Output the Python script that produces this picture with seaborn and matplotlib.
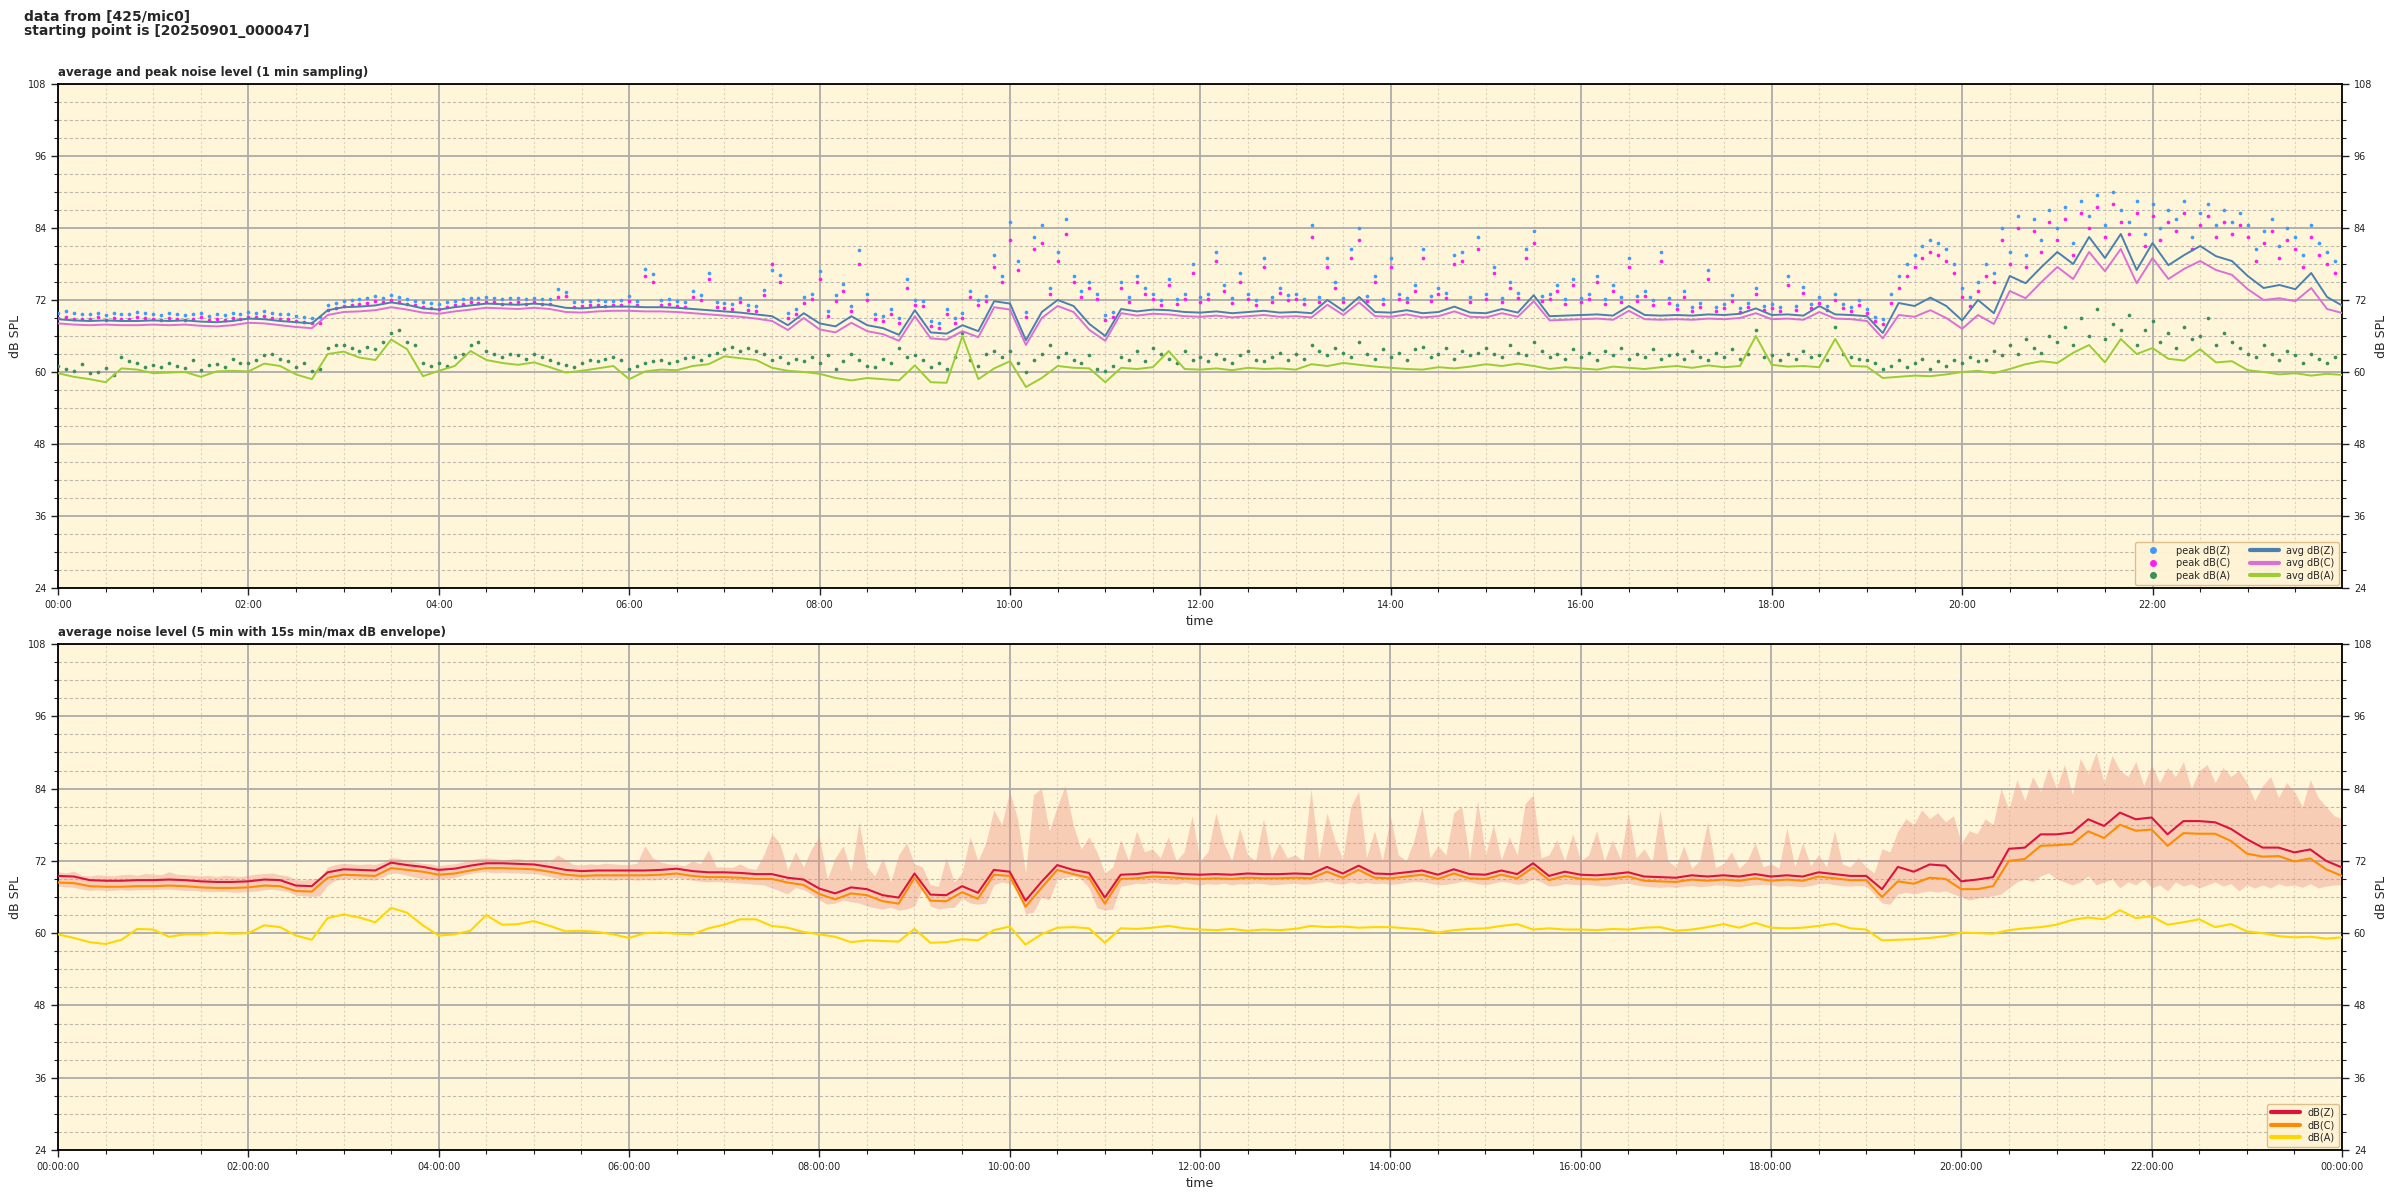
import numpy as np
import matplotlib
matplotlib.use("Agg")
import matplotlib.pyplot as plt
import seaborn as sns
from matplotlib.ticker import MultipleLocator, FuncFormatter
from matplotlib.lines import Line2D

# ---------------- data (top panel, 10-min avg lines) ----------------
avg_z = [68.8, 68.6, 68.5, 68.6, 68.5, 68.5,
         68.6, 68.5, 68.6, 68.4, 68.3, 68.5,
         68.9, 68.8, 68.5, 68.3, 68.1, 70.3,
         70.8, 70.9, 71.1, 71.6, 71.2, 70.6,
         70.4, 70.8, 71.1, 71.4, 71.3, 71.2,
         71.4, 71.2, 70.7, 70.6, 70.8, 70.9,
         70.9, 70.8, 70.8, 70.7, 70.5, 70.3,
         70.1, 69.9, 69.6, 69.3, 67.8, 69.8,
         68.1, 67.6, 69.3, 67.8, 67.3, 66.2,
         70.3, 66.6, 66.4, 67.8, 66.8, 71.8,
         71.4, 65.3, 70.0, 72.0, 71.0, 68.0,
         66.0, 70.5, 70.1, 70.4, 70.3, 70.0,
         69.9, 70.1, 69.8, 70.0, 70.2, 69.9,
         70.0, 69.8, 72.0, 70.2, 72.5, 70.0,
         69.9, 70.3, 69.8, 70.0, 70.9, 69.9,
         69.8, 70.5, 69.9, 72.8, 69.3, 69.4,
         69.5, 69.6, 69.4, 71.0, 69.5, 69.4,
         69.5, 69.4, 69.6, 69.5, 69.7, 70.6,
         69.5, 69.6, 69.4, 71.0, 69.6, 69.5,
         69.3, 66.5, 71.5, 71.0, 72.4, 71.0,
         68.6, 72.0, 69.8, 76.0, 74.8, 77.5,
         80.0, 78.0, 82.5, 79.0, 83.0, 77.0,
         81.5, 77.8, 79.5, 81.0, 79.3, 78.5,
         76.0, 74.0, 74.5, 73.8, 76.5, 72.5,
         71.0]
avg_c = [68.1, 67.9, 67.8, 67.9, 67.8, 67.8,
         67.9, 67.8, 67.9, 67.7, 67.6, 67.8,
         68.2, 68.1, 67.8, 67.5, 67.3, 69.5,
         70.0, 70.1, 70.3, 70.8, 70.4, 69.9,
         69.7, 70.1, 70.4, 70.7, 70.6, 70.5,
         70.7, 70.5, 70.0, 69.9, 70.1, 70.2,
         70.2, 70.1, 70.1, 70.0, 69.8, 69.6,
         69.4, 69.2, 68.9, 68.5, 67.0, 69.0,
         67.1, 66.6, 68.2, 66.8, 66.3, 65.2,
         69.3, 65.6, 65.4, 66.8, 65.8, 70.8,
         70.4, 64.5, 69.0, 71.0, 70.0, 67.0,
         65.2, 69.8, 69.4, 69.7, 69.6, 69.3,
         69.2, 69.4, 69.1, 69.3, 69.5, 69.2,
         69.3, 69.1, 71.2, 69.5, 71.6, 69.3,
         69.2, 69.6, 69.1, 69.3, 70.1, 69.2,
         69.1, 69.8, 69.2, 71.8, 68.6, 68.7,
         68.8, 68.9, 68.7, 70.2, 68.8, 68.7,
         68.8, 68.7, 68.9, 68.8, 69.0, 69.8,
         68.8, 68.9, 68.7, 70.0, 68.9, 68.8,
         68.5, 65.6, 69.5, 69.2, 70.3, 69.0,
         67.2, 69.5, 68.0, 73.5, 72.3, 75.0,
         77.5, 75.5, 80.0, 76.8, 80.5, 74.8,
         79.0, 75.5, 77.2, 78.5, 77.0, 76.2,
         73.8, 72.0, 72.3, 71.8, 74.0, 70.5,
         69.8]
avg_a = [59.8, 59.2, 58.8, 58.3, 60.6, 60.4,
         59.8, 59.9, 60.0, 59.2, 60.1, 60.2,
         60.1, 61.4, 61.0, 59.6, 58.8, 63.0,
         63.4, 62.4, 62.0, 65.4, 63.8, 59.3,
         60.2, 61.0, 63.5, 62.0, 61.5, 61.2,
         61.6, 60.8, 59.9, 60.2, 60.6, 61.0,
         58.8, 60.1, 60.4, 60.3, 61.0, 61.3,
         62.6, 62.3, 62.0, 60.7, 60.2, 60.0,
         59.7, 59.0, 58.6, 59.0, 58.8, 58.6,
         61.1, 58.3, 58.2, 66.0, 58.8, 60.6,
         61.8, 57.5, 59.0, 61.0, 60.7, 60.6,
         58.3, 60.7, 60.5, 60.8, 63.5, 60.5,
         60.4, 60.6, 60.3, 60.7, 60.5, 60.6,
         60.4, 61.3, 61.0, 61.5, 61.2, 60.9,
         60.7, 60.5, 60.4, 60.8, 60.6, 60.9,
         61.3, 61.0, 61.4, 61.0, 60.5, 60.8,
         60.6, 60.4, 60.9, 60.7, 60.5, 60.8,
         61.0, 60.7, 61.1, 60.8, 61.0, 66.0,
         61.2, 60.9, 61.0, 60.8, 65.5, 61.0,
         60.9, 59.0, 59.2, 59.4, 59.3, 59.6,
         60.0, 60.2, 59.8, 60.5, 61.3, 61.8,
         61.5, 63.2, 64.5, 61.6, 65.5, 63.0,
         64.0, 62.2, 61.9, 63.8, 61.6, 61.8,
         60.3, 60.0, 59.6, 59.8, 59.4, 59.7,
         59.5]

# ---------------- data (top panel, 5-min peaks) ----------------
peak_z = [69.9, 70.2, 69.8, 69.6, 69.7, 69.9, 69.5, 69.8, 69.6, 69.7, 70.0, 69.8,
          69.7, 69.5, 69.8, 69.6, 69.5, 69.7, 69.9, 69.4, 69.6, 69.5, 69.8, 69.7,
          70.0, 69.9, 70.1, 69.8, 69.7, 69.6, 69.4, 69.2, 69.0, 69.1, 71.2, 71.5,
          71.8, 72.0, 72.1, 72.3, 72.6, 72.4, 72.8, 72.5, 72.2, 71.9, 71.6, 71.5,
          71.3, 71.6, 71.9, 72.2, 72.4, 72.3, 72.5, 72.4, 72.2, 72.3, 72.4, 72.1,
          72.4, 72.2, 72.1, 73.8, 73.4, 71.7, 71.8, 71.9, 72.0, 71.8, 71.9, 72.0,
          72.6, 71.9, 77.2, 76.3, 72.0, 72.2, 71.8, 71.6, 73.5, 72.8, 76.5, 71.7,
          71.5, 71.3, 72.4, 71.2, 71.0, 73.6, 77.0, 76.2, 69.8, 70.5, 72.5, 73.0,
          76.8, 70.2, 72.8, 74.6, 71.0, 80.3, 73.0, 69.6, 69.3, 70.5, 69.0, 75.5,
          72.0, 71.8, 68.5, 68.2, 70.5, 69.0, 69.8, 73.5, 72.0, 72.6, 79.5, 76.0,
          85.0, 78.5, 70.0, 82.5, 84.5, 74.0, 80.0, 85.5, 76.0, 73.5, 75.0, 73.0,
          69.5, 70.0, 75.0, 72.5, 76.0, 74.0, 73.0, 72.0, 75.5, 72.2, 73.0, 78.0,
          72.5, 73.0, 80.0, 74.5, 72.3, 76.5, 73.0, 72.0, 79.0, 72.5, 74.0, 72.8,
          73.0, 72.2, 84.5, 72.5, 79.0, 75.0, 72.4, 80.5, 84.0, 72.6, 76.0, 72.2,
          79.0, 73.0, 72.4, 74.5, 80.5, 72.6, 74.0, 73.2, 79.5, 80.0, 72.5, 82.5,
          73.0, 77.5, 72.4, 75.0, 73.2, 80.5, 83.5, 72.6, 73.0, 74.5, 72.2, 75.5,
          72.4, 73.0, 76.0, 72.2, 74.5, 72.5, 79.0, 72.6, 73.5, 72.0, 80.0, 72.3,
          71.2, 73.5, 70.8, 71.5, 77.0, 70.9, 71.3, 72.8, 70.7, 71.5, 74.0, 71.0,
          71.4, 70.8, 76.0, 71.0, 74.2, 71.3, 72.5, 71.0, 73.0, 71.4, 70.9, 72.0,
          70.5, 69.2, 68.8, 73.0, 76.0, 78.0, 79.5, 81.0, 82.0, 81.5, 80.5, 78.0,
          74.0, 72.5, 75.0, 78.0, 76.5, 84.0, 80.0, 86.0, 79.5, 85.5, 82.0, 87.0,
          84.0, 87.5, 81.5, 88.5, 86.0, 89.5, 84.5, 90.0, 87.0, 85.0, 88.5, 83.0,
          88.0, 84.0, 87.0, 85.5, 88.5, 82.5, 86.5, 88.0, 84.5, 87.0, 85.0, 86.5,
          84.5, 80.5, 83.5, 85.5, 81.0, 84.0, 82.5, 79.5, 84.5, 81.5, 80.0, 78.5]
peak_c = [69.0, 69.2, 68.9, 68.8, 68.9, 69.1, 68.7, 69.0, 68.8, 68.9, 69.2, 69.0,
          68.9, 68.7, 69.0, 68.8, 68.6, 68.9, 69.1, 68.6, 68.8, 68.7, 69.0, 68.9,
          69.2, 69.1, 69.3, 69.0, 68.9, 68.8, 68.5, 68.3, 68.1, 68.2, 70.4, 70.7,
          71.0, 71.2, 71.3, 71.5, 71.8, 71.6, 72.0, 71.7, 71.4, 71.1, 70.8, 70.7,
          70.5, 70.8, 71.1, 71.4, 71.6, 71.5, 71.7, 71.6, 71.4, 71.5, 71.6, 71.3,
          71.6, 71.4, 71.3, 72.5, 72.6, 70.9, 71.0, 71.1, 71.2, 71.0, 71.1, 71.2,
          71.8, 71.1, 76.0, 75.0, 71.2, 71.4, 71.0, 70.8, 72.5, 72.0, 75.5, 70.9,
          70.7, 70.5, 71.6, 70.4, 70.2, 72.8, 78.0, 75.0, 69.0, 69.7, 71.5, 72.2,
          75.5, 69.4, 71.8, 73.5, 70.2, 78.0, 72.0, 68.8, 68.5, 69.7, 68.2, 74.0,
          71.2, 71.0, 67.7, 67.4, 69.7, 68.2, 69.0, 72.5, 71.2, 71.8, 77.5, 75.0,
          82.0, 77.0, 69.2, 80.5, 81.5, 73.0, 78.5, 83.0, 75.0, 72.5, 74.0, 72.2,
          68.7, 69.2, 74.0, 71.6, 75.0, 73.0, 72.2, 71.2, 74.5, 71.4, 72.2, 76.5,
          71.7, 72.2, 78.5, 73.5, 71.5, 75.0, 72.2, 71.2, 77.5, 71.7, 73.2, 72.0,
          72.2, 71.4, 82.5, 71.7, 77.5, 74.0, 71.6, 79.0, 82.0, 71.8, 75.0, 71.4,
          77.5, 72.2, 71.6, 73.5, 79.0, 71.8, 73.0, 72.4, 78.0, 78.5, 71.7, 80.5,
          72.2, 76.5, 71.6, 74.0, 72.4, 79.0, 81.5, 71.8, 72.2, 73.5, 71.4, 74.5,
          71.6, 72.2, 75.0, 71.4, 73.5, 71.7, 77.5, 71.8, 72.6, 71.2, 78.5, 71.5,
          70.5, 72.5, 70.1, 70.8, 75.5, 70.2, 70.6, 71.8, 70.0, 70.8, 73.0, 70.3,
          70.7, 70.1, 74.5, 70.3, 73.2, 70.6, 71.5, 70.3, 72.0, 70.7, 70.2, 71.2,
          69.8, 68.5, 68.0, 71.5, 74.0, 76.0, 77.5, 79.0, 80.0, 79.5, 78.5, 76.5,
          72.5, 71.0, 73.5, 76.0, 75.0, 82.0, 78.0, 84.0, 77.5, 83.5, 80.0, 85.0,
          82.0, 85.5, 79.5, 86.5, 84.0, 87.5, 82.5, 88.0, 85.0, 83.0, 86.5, 81.0,
          86.0, 82.0, 85.0, 83.5, 86.5, 80.5, 84.5, 86.0, 82.5, 85.0, 83.0, 84.5,
          82.5, 78.5, 81.5, 83.5, 79.0, 82.0, 80.5, 77.5, 82.5, 79.5, 78.0, 76.5]
peak_a = [61.0, 60.5, 60.2, 61.3, 59.8, 60.0, 60.6, 59.5, 62.5, 61.8, 61.5, 60.9,
          61.2, 60.8, 61.5, 61.0, 60.7, 62.0, 60.3, 61.2, 61.4, 60.9, 62.2, 61.5,
          61.5, 62.0, 62.8, 63.0, 62.2, 61.8, 60.8, 61.5, 60.2, 60.5, 64.0, 64.5,
          64.5, 64.0, 63.5, 64.2, 63.8, 65.0, 66.5, 67.0, 65.0, 64.5, 61.5, 61.0,
          61.5, 61.0, 62.5, 63.0, 64.5, 65.0, 63.5, 63.0, 62.5, 63.0, 62.8, 62.2,
          63.0, 62.5, 62.0, 61.5, 61.2, 60.8, 61.5, 62.0, 61.8, 62.2, 62.5, 62.0,
          60.5, 61.0, 61.5, 61.8, 62.0, 61.5, 61.8, 62.3, 62.5, 62.0, 62.8, 63.2,
          63.8, 64.2, 63.5, 64.0, 63.5, 63.0, 62.0, 62.5, 61.5, 62.2, 61.8, 62.5,
          61.5, 62.8, 60.5, 61.8, 63.0, 62.0, 61.0, 60.8, 62.2, 61.5, 64.0, 62.5,
          62.8, 62.0, 60.8, 61.5, 60.5, 62.5, 66.5, 62.0, 61.0, 63.0, 63.5, 62.5,
          63.5, 61.5, 60.0, 62.0, 63.0, 64.5, 62.5, 63.2, 62.0, 61.5, 62.8, 60.5,
          60.2, 61.0, 62.5, 62.0, 63.5, 61.8, 64.0, 63.0, 62.2, 61.5, 63.5, 62.0,
          62.5, 61.8, 63.0, 62.2, 61.5, 62.8, 63.5, 62.0, 61.8, 62.5, 63.2, 62.0,
          63.0, 62.2, 64.5, 63.5, 62.8, 64.0, 63.2, 62.5, 65.0, 63.0, 62.2, 63.8,
          62.5, 63.2, 62.0, 63.8, 64.2, 62.5, 63.0, 64.0, 62.2, 63.5, 62.8, 63.2,
          64.0, 63.0, 62.5, 64.5, 63.2, 62.8, 65.0, 63.5, 62.5, 63.0, 62.2, 63.8,
          62.5, 63.2, 62.0, 63.5, 62.8, 64.0, 62.2, 63.0, 62.5, 63.8, 62.2, 62.8,
          63.0, 62.2, 63.5, 62.5, 62.0, 63.2, 62.5, 63.8, 62.2, 63.0, 67.0, 62.5,
          62.8, 62.0, 63.0, 62.2, 63.5, 62.5, 62.8, 62.0, 67.5, 63.0, 62.5, 62.2,
          62.0, 61.5, 60.5, 61.0, 62.0, 60.8, 61.5, 62.2, 60.5, 61.8, 61.0, 62.0,
          61.5, 62.5, 61.8, 62.0, 63.5, 62.8, 64.5, 63.0, 65.5, 64.0, 63.2, 66.0,
          65.0, 67.5, 64.5, 69.0, 66.0, 70.5, 65.5, 68.0, 67.0, 69.5, 64.5, 67.0,
          68.5, 65.0, 66.5, 64.0, 67.5, 65.5, 66.0, 69.0, 64.5, 66.5, 65.0, 64.0,
          63.0, 62.5, 64.5, 63.0, 62.0, 63.5, 62.8, 61.5, 63.0, 62.2, 61.5, 62.5]

# ---------------- data (bottom panel, 10-min 5-min-averages) ----------------
bot_z = [69.5, 69.4, 68.8, 68.7, 68.7, 68.8,
         68.8, 68.9, 68.8, 68.6, 68.5, 68.5,
         68.6, 68.9, 68.8, 67.9, 67.8, 70.1,
         70.6, 70.5, 70.4, 71.7, 71.3, 71.0,
         70.5, 70.7, 71.2, 71.6, 71.6, 71.5,
         71.4, 71.0, 70.5, 70.3, 70.4, 70.4,
         70.4, 70.4, 70.5, 70.7, 70.3, 70.1,
         70.1, 70.0, 69.8, 69.8, 69.2, 68.9,
         67.4, 66.6, 67.6, 67.3, 66.3, 65.9,
         69.9, 66.4, 66.3, 67.8, 66.7, 70.5,
         70.2, 65.4, 68.5, 71.3, 70.5, 70.0,
         65.9, 69.7, 69.8, 70.1, 70.0, 69.8,
         69.7, 69.8, 69.7, 69.9, 69.8, 69.8,
         69.9, 69.8, 71.0, 69.9, 71.2, 69.9,
         69.8, 70.1, 70.4, 69.7, 70.6, 69.8,
         69.7, 70.4, 69.8, 71.6, 69.5, 70.2,
         69.7, 69.6, 69.8, 70.1, 69.4, 69.3,
         69.2, 69.6, 69.4, 69.6, 69.4, 69.8,
         69.4, 69.6, 69.4, 70.1, 69.8, 69.5,
         69.5, 67.3, 71.0, 70.2, 71.4, 71.2,
         68.6, 68.9, 69.3, 74.0, 74.2, 76.4,
         76.4, 76.7, 78.9, 77.8, 80.0, 78.9,
         79.2, 76.4, 78.6, 78.6, 78.4, 77.3,
         75.6, 74.2, 74.2, 73.4, 73.9, 72.0,
         70.9]
bot_c = [68.4, 68.3, 67.8, 67.7, 67.7, 67.8,
         67.8, 67.9, 67.8, 67.6, 67.5, 67.5,
         67.6, 67.9, 67.8, 67.0, 66.9, 69.2,
         69.7, 69.6, 69.5, 70.8, 70.5, 70.2,
         69.7, 69.9, 70.4, 70.8, 70.8, 70.7,
         70.6, 70.2, 69.7, 69.5, 69.6, 69.6,
         69.6, 69.6, 69.7, 69.9, 69.5, 69.3,
         69.3, 69.2, 69.0, 69.0, 68.4, 68.0,
         66.5, 65.6, 66.6, 66.3, 65.3, 64.9,
         69.2, 65.4, 65.3, 66.8, 65.7, 69.7,
         69.5, 64.4, 67.5, 70.5, 69.8, 69.2,
         64.9, 69.0, 69.1, 69.4, 69.3, 69.1,
         69.0, 69.1, 69.0, 69.2, 69.1, 69.1,
         69.2, 69.1, 70.2, 69.2, 70.5, 69.2,
         69.1, 69.4, 69.7, 69.0, 69.9, 69.1,
         69.0, 69.7, 69.1, 70.9, 68.8, 69.5,
         69.0, 68.9, 69.1, 69.4, 68.7, 68.6,
         68.5, 68.9, 68.7, 68.9, 68.7, 69.1,
         68.7, 68.9, 68.7, 69.4, 69.1, 68.8,
         68.8, 66.0, 68.6, 68.2, 69.2, 69.0,
         67.3, 67.3, 67.8, 72.0, 72.3, 74.5,
         74.6, 74.8, 76.9, 75.8, 78.0, 77.0,
         77.2, 74.5, 76.6, 76.5, 76.5, 75.3,
         73.2, 72.7, 72.8, 71.9, 72.4, 70.6,
         69.5]
bot_a = [59.8, 59.2, 58.5, 58.2, 58.9, 60.7,
         60.6, 59.4, 59.8, 59.8, 60.1, 59.9,
         60.0, 61.3, 61.0, 59.6, 58.9, 62.5,
         63.1, 62.6, 61.8, 64.2, 63.4, 61.3,
         59.6, 59.8, 60.4, 63.0, 61.4, 61.5,
         62.0, 61.2, 60.3, 60.4, 60.2, 59.8,
         59.2, 60.0, 60.1, 59.9, 59.8, 60.8,
         61.4, 62.3, 62.3, 61.2, 60.9, 60.2,
         59.8, 59.4, 58.5, 58.8, 58.7, 58.6,
         60.7, 58.4, 58.5, 59.0, 58.8, 60.5,
         61.1, 58.1, 59.8, 60.9, 61.0, 60.8,
         58.4, 60.8, 60.7, 60.9, 61.2, 60.8,
         60.6, 60.5, 60.7, 60.4, 60.6, 60.5,
         60.7, 61.2, 61.0, 61.1, 60.9, 61.0,
         61.0, 60.8, 60.6, 60.1, 60.5, 60.7,
         60.8, 61.2, 61.5, 60.6, 60.8, 60.6,
         60.6, 60.5, 60.7, 60.6, 60.9, 61.0,
         60.4, 60.6, 61.0, 61.5, 60.9, 61.7,
         60.9, 60.8, 60.9, 61.2, 61.6, 60.8,
         60.6, 58.8, 58.9, 59.0, 59.2, 59.5,
         60.1, 60.0, 59.9, 60.5, 60.8, 61.0,
         61.4, 62.2, 62.6, 62.3, 63.8, 62.5,
         62.8, 61.4, 61.8, 62.3, 61.0, 61.5,
         60.3, 60.0, 59.5, 59.3, 59.4, 59.1,
         59.3]

# ---------------- data (bottom panel, 15s min/max envelope, 5-min) ----------------
env_hi = [70.2, 70.0, 70.3, 69.6, 69.5, 69.7, 69.6, 69.5, 69.7, 69.8, 69.6, 69.9,
          69.8, 69.7, 70.2, 69.8, 69.7, 69.6, 69.5, 69.6, 69.4, 69.6, 69.5, 69.4,
          69.6, 69.8, 69.9, 70.0, 69.7, 69.5, 68.9, 68.8, 69.0, 69.1, 71.0, 71.4,
          71.6, 71.5, 71.4, 71.5, 71.4, 71.8, 72.6, 72.4, 72.0, 71.8, 71.6, 71.5,
          71.2, 71.4, 71.5, 71.8, 72.2, 72.4, 72.5, 72.4, 72.2, 72.3, 72.4, 72.2,
          72.2, 72.0, 71.8, 73.0, 72.2, 71.4, 71.3, 71.5, 71.4, 71.6, 71.5, 71.4,
          71.4, 71.6, 74.5, 72.5, 71.8, 71.5, 71.4, 71.2, 72.0, 71.5, 73.8, 71.0,
          71.0, 70.9, 71.5, 70.8, 70.6, 73.0, 76.5, 75.0, 70.5, 73.5, 71.0, 74.0,
          76.0, 69.0, 72.5, 74.5, 70.2, 78.5, 71.0, 69.5, 72.5, 68.5, 73.0, 75.0,
          71.5, 71.0, 68.0, 67.8, 72.5, 68.5, 70.0, 76.0, 72.0, 75.0, 80.5, 78.0,
          83.5, 79.0, 70.0, 83.0, 84.0, 77.0, 81.0, 84.5, 78.0, 74.0, 76.0, 73.5,
          70.0, 71.0, 75.5, 72.0, 77.0, 73.5, 74.0, 72.5, 76.0, 72.0, 73.5, 79.5,
          72.0, 73.5, 80.0, 75.0, 72.0, 77.5, 73.0, 72.0, 79.0, 72.2, 75.0, 72.5,
          73.0, 72.0, 84.0, 72.5, 80.0, 75.5, 72.3, 81.0, 83.5, 72.6, 77.0, 72.0,
          79.5, 73.0, 72.0, 75.5, 81.0, 72.5, 74.5, 73.0, 80.0, 81.0, 72.3, 82.0,
          73.0, 78.0, 72.2, 76.0, 73.0, 81.5, 83.0, 72.5, 73.0, 75.5, 72.0, 76.5,
          72.0, 73.0, 77.0, 72.0, 75.5, 72.3, 80.0, 72.5, 74.0, 71.8, 80.5, 72.0,
          71.0, 74.5, 70.8, 72.0, 78.5, 70.9, 71.5, 73.5, 70.8, 72.0, 75.0, 71.0,
          71.5, 70.8, 77.5, 71.0, 75.0, 71.2, 73.0, 71.0, 77.0, 71.5, 71.0, 72.5,
          71.0, 70.0, 74.0, 73.5, 77.0, 79.0, 78.0, 80.5, 79.0, 80.0, 78.5, 79.5,
          75.0, 77.0, 76.5, 79.0, 78.0, 84.0, 80.5, 85.5, 82.0, 86.0, 83.5, 87.5,
          84.0, 88.0, 83.0, 89.0, 86.5, 90.0, 85.0, 89.5, 87.0, 86.0, 88.5, 84.5,
          88.0, 85.0, 87.5, 86.0, 88.5, 84.0, 87.0, 88.0, 85.0, 87.5, 86.0, 87.0,
          85.0, 82.0, 84.5, 86.0, 82.5, 85.0, 83.5, 81.0, 85.5, 82.5, 81.0, 79.5,
          79.0]
env_lo = [67.8, 67.7, 67.6, 67.3, 67.1, 67.2, 67.1, 67.1, 67.2, 67.1, 67.2, 67.2,
          67.2, 67.3, 67.3, 67.2, 67.1, 67.1, 67.0, 66.9, 66.9, 66.9, 66.8, 66.8,
          66.9, 67.0, 67.2, 67.3, 67.1, 66.9, 66.3, 66.2, 66.1, 66.2, 68.0, 68.8,
          69.0, 69.1, 68.9, 68.9, 68.8, 69.4, 70.0, 69.9, 69.6, 69.3, 69.0, 68.9,
          68.9, 69.1, 69.2, 69.6, 69.9, 70.1, 70.2, 70.0, 70.1, 70.0, 70.0, 69.9,
          69.9, 69.7, 69.4, 69.1, 68.9, 68.9, 68.8, 68.9, 68.9, 68.9, 68.8, 68.9,
          68.9, 68.8, 68.9, 68.8, 69.0, 69.1, 69.2, 69.0, 68.8, 68.6, 68.5, 68.6,
          68.5, 68.4, 68.3, 68.2, 68.1, 68.0, 67.5, 67.0, 66.5, 67.6, 67.2, 66.5,
          65.5, 64.8, 65.0, 65.5, 65.2, 65.0, 64.5, 64.2, 64.0, 64.3, 63.8, 64.0,
          64.5, 67.5, 64.5, 64.0, 64.2, 64.3, 65.8, 65.0, 64.8, 65.0, 68.0, 68.5,
          68.2, 67.8, 63.2, 63.5, 66.0, 65.5, 69.0, 69.2, 69.5, 69.0, 67.5, 64.2,
          63.8, 64.0, 67.8, 68.0, 68.3, 68.2, 68.5, 68.3, 68.2, 68.1, 68.4, 68.2,
          68.0, 68.2, 68.1, 68.3, 68.0, 68.2, 68.1, 68.3, 68.2, 68.0, 68.1, 68.2,
          68.3, 68.1, 68.2, 68.4, 68.6, 68.3, 68.1, 68.5, 68.2, 68.4, 68.2, 68.3,
          68.1, 68.2, 68.4, 68.6, 68.5, 68.3, 68.0, 68.1, 68.3, 68.6, 68.5, 68.2,
          68.0, 68.3, 68.6, 68.4, 68.1, 68.3, 69.0, 68.5, 67.8, 67.9, 68.2, 68.1,
          68.0, 68.1, 67.9, 67.8, 68.0, 68.2, 68.3, 68.0, 67.8, 67.7, 67.6, 67.7,
          67.6, 67.8, 67.9, 67.7, 67.8, 68.0, 67.9, 67.8, 67.7, 67.9, 68.0, 68.1,
          68.0, 67.8, 67.9, 67.8, 67.7, 67.9, 68.2, 68.3, 68.0, 67.9, 67.8, 67.9,
          67.8, 66.5, 65.0, 64.8, 66.5, 66.8, 66.5, 66.8, 67.0, 66.8, 67.0, 66.5,
          66.0, 65.5, 65.8, 66.0, 66.2, 66.5, 67.5, 68.5, 69.0, 68.5, 69.5, 70.0,
          69.0, 68.5, 68.0, 68.5, 69.5, 68.0, 68.5, 69.0, 67.5, 68.5, 68.0, 69.0,
          67.5, 68.0, 67.0, 68.5, 67.8, 68.2, 67.5, 68.0, 68.5, 67.8, 68.2, 67.0,
          68.0, 67.5, 68.0, 67.5, 68.2, 67.8, 68.0, 67.6, 68.2, 67.5, 67.8, 68.0,
          68.0]

# ---------------- text ----------------
suptitle = "data from [425/mic0]\nstarting point is [20250901_000047]"
title_top = "average and peak noise level (1 min sampling)"
title_bot = "average noise level (5 min with 15s min/max dB envelope)"
top_labels = ["peak dB(Z)", "peak dB(C)", "peak dB(A)", "avg dB(Z)", "avg dB(C)", "avg dB(A)"]
bot_labels = ["dB(Z)", "dB(C)", "dB(A)"]

# ---------------- style ----------------
sns.set_theme(style="white")
plt.rcParams["font.family"] = ["DejaVu Sans"]

FACE = "#FFF6DA"
C_PZ, C_PC, C_PA = "#3D9BFF", "#FF1CF0", "#3A8F5C"
C_AZ, C_AC, C_AA = "#4A80B0", "#DA70D6", "#9ACD32"
C_BZ, C_BC, C_BA = "#DC143C", "#FF8C00", "#FFD700"
C_ENV = "#EE9080"

W, H = 2400, 1200
fig = plt.figure(figsize=(24, 12), dpi=100)
left, right = 58 / W, 2342 / W
ax1 = fig.add_axes([left, 1 - 588 / H, right - left, (588 - 84) / H])
ax2 = fig.add_axes([left, 1 - 1150 / H, right - left, (1150 - 644) / H])


def hours(arr, step_min):
    return np.arange(len(arr)) * step_min / 60.0


def style_axis(ax, fmt, xmax):
    ax.set_facecolor(FACE)
    ax.set_xlim(0, xmax)
    ax.set_ylim(24, 108)
    ax.xaxis.set_major_locator(MultipleLocator(2))
    ax.xaxis.set_minor_locator(MultipleLocator(0.5))
    ax.yaxis.set_major_locator(MultipleLocator(12))
    ax.yaxis.set_minor_locator(MultipleLocator(3))
    ax.xaxis.set_major_formatter(FuncFormatter(fmt))
    ax.set_axisbelow(True)
    ax.grid(which="major", color="#ababab", lw=1.3, ls="-")
    ax.xaxis.grid(which="minor", color="#ddd3b8", lw=0.8, ls=(0, (2, 2)))
    ax.yaxis.grid(which="minor", color="#bdb8ac", lw=0.8, ls=(0, (3, 2)))
    ax.tick_params(which="both", direction="out", labelsize=7, colors="#222222",
                   left=True, bottom=True, right=True, top=False, labelright=True)
    ax.tick_params(which="major", length=5, width=1)
    ax.tick_params(which="minor", length=3, width=0.8)
    for s in ax.spines.values():
        s.set_color("black")
        s.set_linewidth(1.3)
    ax.set_ylabel("dB SPL", fontsize=9)
    ax.set_xlabel("time", fontsize=9, labelpad=4)
    ax.text(1.0175, 0.5, "dB SPL", transform=ax.transAxes, rotation=90,
            ha="center", va="center", fontsize=9, color="#262626")


fmt_top = lambda v, _: f"{int(round(v)) % 24:02d}:00"
fmt_bot = lambda v, _: f"{int(round(v)) % 24:02d}:00:00"

# ---------------- top panel ----------------
for arr, col in [(peak_z, C_PZ), (peak_c, C_PC), (peak_a, C_PA)]:
    sns.scatterplot(x=hours(arr, 5), y=arr, ax=ax1, color=col, s=7,
                    linewidth=0, marker="o", legend=False, zorder=3)
for arr, col in [(avg_z, C_AZ), (avg_c, C_AC), (avg_a, C_AA)]:
    sns.lineplot(x=hours(arr, 10), y=arr, ax=ax1, color=col, lw=1.4,
                 legend=False, sort=False, zorder=4)
style_axis(ax1, fmt_top, 23.99)
ax1.set_title(title_top, loc="left", fontsize=8.5, fontweight="bold", pad=6)

h_top = [Line2D([], [], ls="", marker="o", markersize=4, color=c) for c in (C_PZ, C_PC, C_PA)]
h_top += [Line2D([], [], lw=3, color=c) for c in (C_AZ, C_AC, C_AA)]
lg = ax1.legend(h_top, top_labels, loc="lower right", ncol=2, fontsize=7,
                frameon=True, facecolor="#FFF3D6", edgecolor="#DDBB88",
                framealpha=0.95, borderaxespad=0.35, columnspacing=2.0,
                handlelength=3.0, labelspacing=0.25)
lg.get_frame().set_linewidth(1.0)

# ---------------- bottom panel ----------------
te = hours(env_hi, 5)
ax2.fill_between(te, env_lo, env_hi, color=C_ENV, alpha=0.4, lw=0, zorder=2)
for arr, col in [(bot_z, C_BZ), (bot_c, C_BC), (bot_a, C_BA)]:
    sns.lineplot(x=hours(arr, 10), y=arr, ax=ax2, color=col, lw=1.5,
                 legend=False, sort=False, zorder=4)
style_axis(ax2, fmt_bot, 24)
ax2.set_title(title_bot, loc="left", fontsize=8.5, fontweight="bold", pad=6)
h_bot = [Line2D([], [], lw=3, color=c) for c in (C_BZ, C_BC, C_BA)]
lg2 = ax2.legend(h_bot, bot_labels, loc="lower right", fontsize=7, frameon=True,
                 facecolor="#FFF3D6", edgecolor="#DDBB88", framealpha=0.95,
                 borderaxespad=0.35, handlelength=3.0, labelspacing=0.25)
lg2.get_frame().set_linewidth(1.0)

fig.text(24 / W, 1 - 10 / H, suptitle, ha="left", va="top", fontsize=10,
         fontweight="bold", linespacing=1.0)

fig.savefig("out.png", dpi=100, facecolor="white")
